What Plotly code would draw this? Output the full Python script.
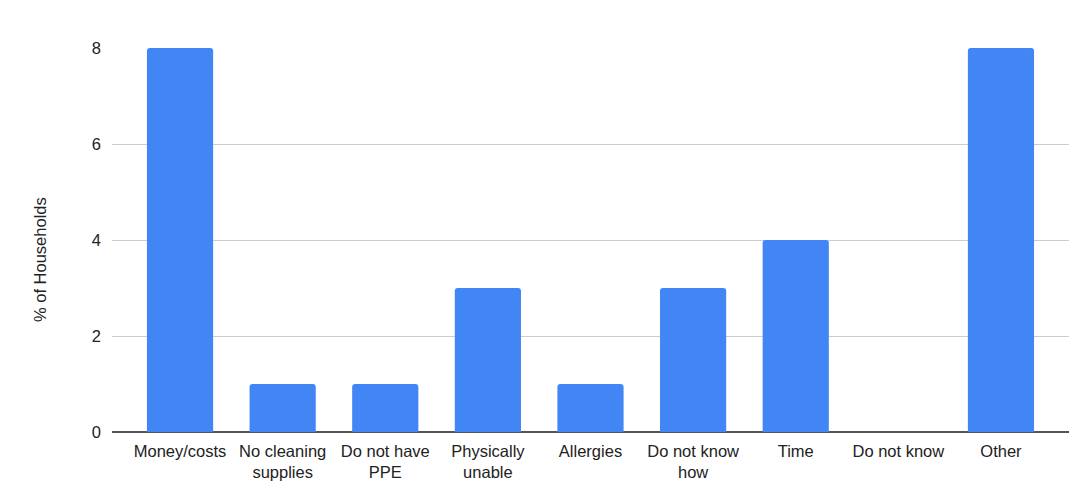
import plotly.graph_objects as go

categories = ["Money/costs", "No cleaning<br>supplies", "Do not have<br>PPE", "Physically<br>unable",
              "Allergies", "Do not know<br>how", "Time", "Do not know", "Other"]
values = [8, 1, 1, 3, 1, 3, 4, 0, 8]
y_ticks = [0, 2, 4, 6, 8]
y_title = "% of Households"

FS = 16.5

fig = go.Figure(go.Bar(x=list(range(len(categories))), y=values, marker_color="#4285F4",
                       width=0.645, marker_line_width=0))

fig.update_layout(
    width=1079, height=496,
    margin=dict(l=112, r=10, t=48, b=64),
    paper_bgcolor="white", plot_bgcolor="white",
    font=dict(family="Liberation Sans, Arial, sans-serif", size=FS, color="#222222"),
    barcornerradius=3,
    showlegend=False,
    xaxis=dict(tickmode="array", tickvals=list(range(len(categories))), ticktext=categories,
               range=[-0.663, 8.663], showgrid=False, showline=False, zeroline=False,
               ticks="", ticklabelstandoff=7, fixedrange=True,
               tickfont=dict(size=FS, color="#222222")),
    yaxis=dict(range=[0, 8], tickvals=y_ticks, showgrid=True, gridcolor="#cccccc", gridwidth=1,
               zeroline=True, zerolinecolor="#555555", zerolinewidth=1.5,
               ticks="", ticklabelstandoff=10, tickfont=dict(size=FS, color="#222222")),
    annotations=[dict(text=y_title, textangle=-90, xref="paper", yref="paper",
                      x=-0.0752, y=0.448, xanchor="center", yanchor="middle",
                      showarrow=False, font=dict(size=FS, color="#222222"))],
)

fig.write_html("out.html")
